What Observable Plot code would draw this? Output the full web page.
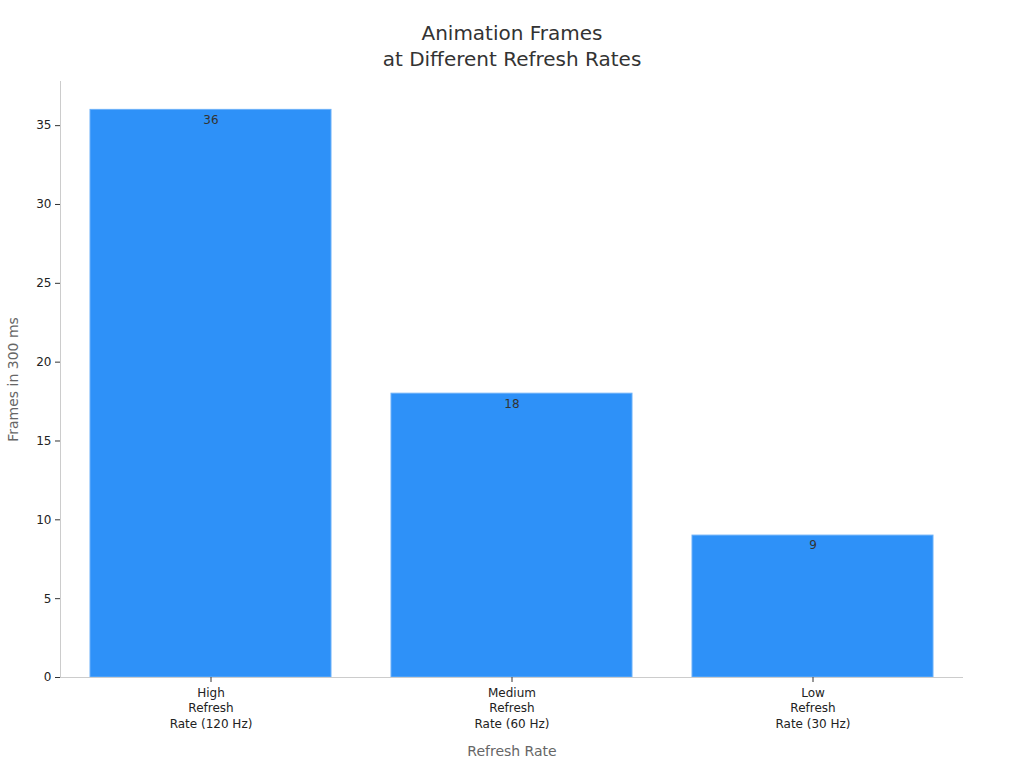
<!DOCTYPE html>
<html>
<head>
<meta charset="utf-8">
<script src="https://cdn.jsdelivr.net/npm/d3@7"></script>
<script src="https://cdn.jsdelivr.net/npm/@observablehq/plot@0.6"></script>
<style>
  html, body { margin: 0; padding: 0; background: #fff; }
  body { width: 1024px; height: 768px; overflow: hidden; font-family: "DejaVu Sans", sans-serif; }
  #title { height: 76px; box-sizing: border-box; padding-top: 20px; text-align: center;
           font-size: 20px; line-height: 26px; color: #333; }
</style>
</head>
<body>
<div id="title">Animation Frames<br>at Different Refresh Rates</div>
<div id="chart"></div>
<script>
const categories = ["High\nRefresh\nRate (120 Hz)", "Medium\nRefresh\nRate (60 Hz)", "Low\nRefresh\nRate (30 Hz)"];
const frames = [36, 18, 9];
const yTicks = [0, 5, 10, 15, 20, 25, 30, 35];
const xLabel = "Refresh Rate";
const yLabel = "Frames in 300 ms";

const data = categories.map((c, i) => ({category: c, value: frames[i]}));
const yMax = d3.max(frames) * 1.05;

const chart = Plot.plot({
  width: 1024,
  height: 692,
  marginTop: 5,
  marginBottom: 91,
  marginLeft: 60,
  marginRight: 61,
  style: {fontFamily: "DejaVu Sans, sans-serif", fontSize: "12px", color: "#333", background: "#fff"},
  x: {domain: categories, paddingInner: 0.2, paddingOuter: 0.1, label: null},
  y: {domain: [0, yMax], label: null},
  marks: [
    Plot.barY(data, {x: "category", y: "value", fill: "#2E91F8", stroke: "#6AB0F9", strokeWidth: 1}),
    Plot.text(data, {x: "category", y: "value", text: d => String(d.value), dy: 10, fill: "#333", fontSize: 12}),
    Plot.frame({anchor: "left", stroke: "#ccc"}),
    Plot.ruleY([0], {stroke: "#ccc"}),
    Plot.axisY({ticks: yTicks, tickSize: 5, tickPadding: 4, stroke: "#333", fill: "#222", fontSize: 12, label: null}),
    Plot.axisX({tickSize: 5, tickPadding: 3, stroke: "#333", fill: "#222", fontSize: 12, lineHeight: 1.3, label: null}),
    Plot.text([xLabel], {frameAnchor: "bottom", dy: 78, fill: "#666", fontSize: 14}),
    Plot.text([yLabel], {frameAnchor: "left", textAnchor: "middle", dx: -47, rotate: -90, fill: "#666", fontSize: 14})
  ]
});
document.getElementById("chart").appendChild(chart);
</script>
</body>
</html>
